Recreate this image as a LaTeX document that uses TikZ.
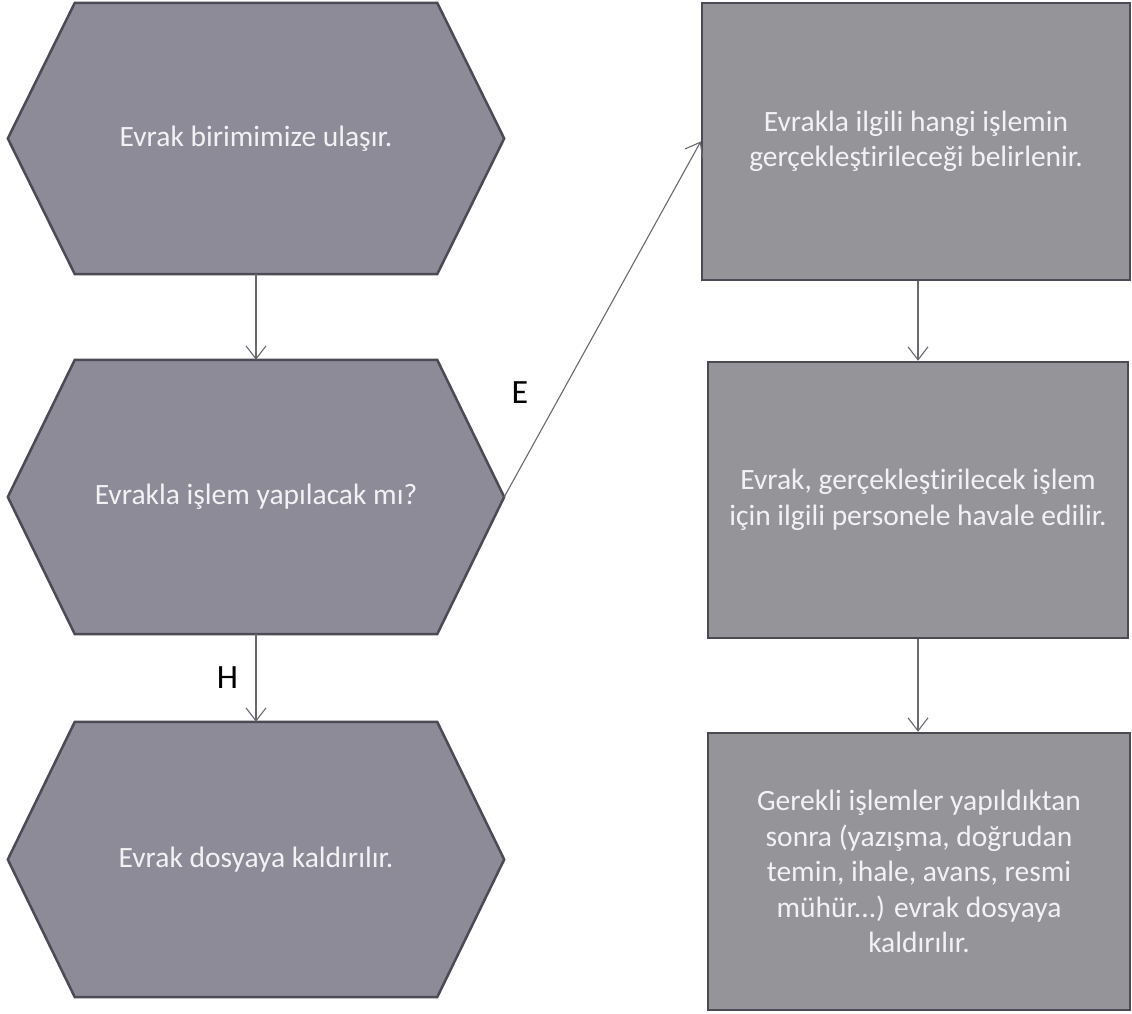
\documentclass[tikz,border=0pt]{standalone}
\usepackage{fontspec}
\setmainfont{Carlito}[Ligatures={NoCommon}]
\usetikzlibrary{arrows.meta,backgrounds,calc}
\definecolor{hexgray}{RGB}{142,139,152}
\definecolor{boxgray}{RGB}{149,148,153}
\definecolor{edgegray}{RGB}{76,74,84}
\definecolor{linegray}{RGB}{105,105,112}
\definecolor{txtwhite}{RGB}{242,242,244}
\tikzset{
  boxtext/.style={text=txtwhite, font=\fontsize{29.5}{35.5}\selectfont, align=center},
  hexcore/.style={rectangle, inner sep=0pt, minimum width=362pt, boxtext},
  hexfill/.style={fill=hexgray, draw=edgegray, line width=2.5pt, line join=miter},
  rectbox/.style={rectangle, inner sep=0pt, fill=boxgray, draw=edgegray, line width=2.5pt, boxtext},
  conn/.style={draw=linegray, line width=1.1pt, -{Straight Barb[length=13pt,width=20pt,line width=1.1pt]}},
  lbl/.style={text=black, font=\fontsize{34}{40}\selectfont}
}
\begin{document}
\begin{tikzpicture}[x=1pt,y=-1pt]
\useasboundingbox (0,0) rectangle (1132,1014);

% hexagons (left column)
\node[hexcore, minimum height=271pt] (h1) at (256,138.5) {Evrak birimimize ulaşır.};
\node[hexcore, minimum height=274pt] (h2) at (256,497) {Evrakla işlem yapılacak mı?};
\node[hexcore, minimum height=275pt] (h3) at (256,859.5) {Evrak dosyaya kaldırılır.};

\coordinate (h1w) at ($(h1.west)+(-67,0)$);
\coordinate (h1e) at ($(h1.east)+(67,0)$);
\coordinate (h2w) at ($(h2.west)+(-67,0)$);
\coordinate (h2e) at ($(h2.east)+(67,0)$);
\coordinate (h3w) at ($(h3.west)+(-67,0)$);
\coordinate (h3e) at ($(h3.east)+(67,0)$);

\begin{pgfonlayer}{background}
\fill[white] (0,0) rectangle (1132,1014);
\draw[hexfill] (h1.north west) -- (h1.north east) -- (h1e) -- (h1.south east) -- (h1.south west) -- (h1w) -- cycle;
\draw[hexfill] (h2.north west) -- (h2.north east) -- (h2e) -- (h2.south east) -- (h2.south west) -- (h2w) -- cycle;
\draw[hexfill] (h3.north west) -- (h3.north east) -- (h3e) -- (h3.south east) -- (h3.south west) -- (h3w) -- cycle;
\end{pgfonlayer}

% rectangles (right column)
\node[rectbox, minimum width=428pt, minimum height=277pt] (r1) at (916,141.5)
  {Evrakla ilgili hangi işlemin\\gerçekleştirileceği belirlenir.};
\node[rectbox, minimum width=420pt, minimum height=276pt] (r2) at (918,500)
  {Evrak, gerçekleştirilecek işlem\\için ilgili personele havale edilir.};
\node[rectbox, minimum width=422pt, minimum height=277pt] (r3) at (919,871.5)
  {Gerekli işlemler yapıldıktan\\sonra (yazışma, doğrudan\\temin, ihale, avans, resmi\\mühür...) evrak dosyaya\\kaldırılır.};

% connectors
\draw[conn] (h1.south) -- (h2.north);
\draw[conn] (h2.south) -- node[lbl, left=14pt, pos=0.5] (lh) {H} (h3.north);
\draw[conn] (h2e) -- (r1.west);
\node[lbl] (le) at (520,393) {E};
\draw[conn] (r2.north |- r1.south) -- (r2.north);
\draw[conn] (r2.south) -- (r2.south |- r3.north);
\end{tikzpicture}
\end{document}
